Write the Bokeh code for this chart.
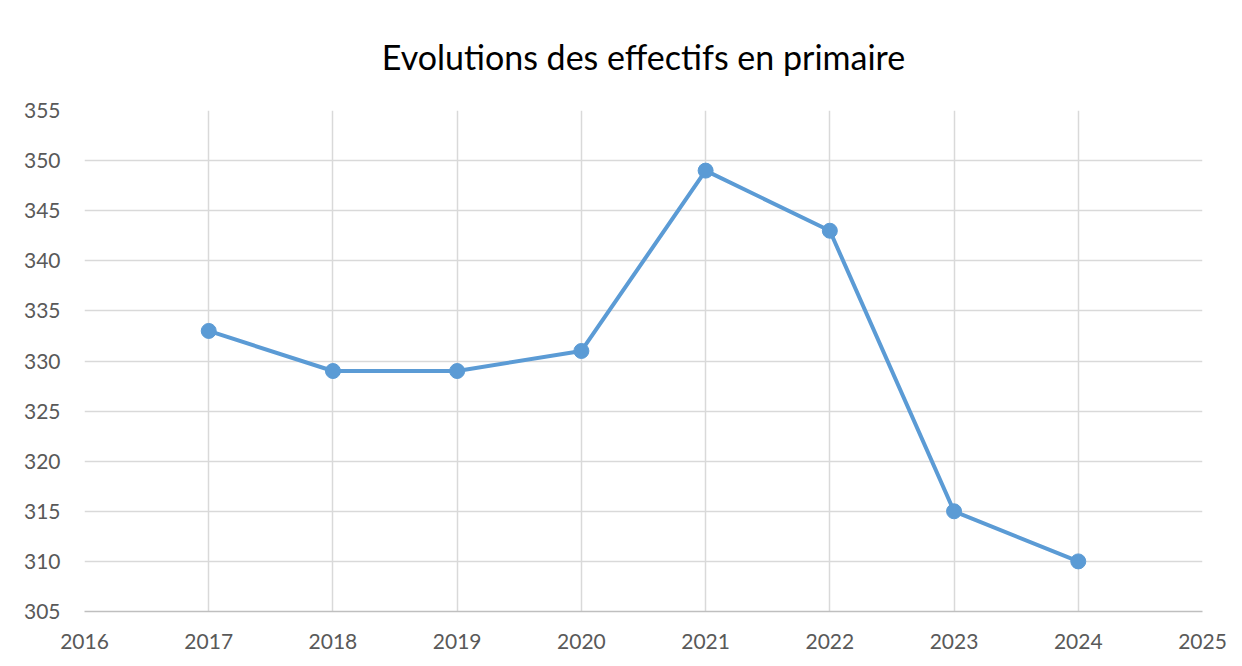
from bokeh.plotting import figure
from bokeh.models import FixedTicker, Range1d
from bokeh.embed import file_html
from bokeh.resources import INLINE

years = [2017, 2018, 2019, 2020, 2021, 2022, 2023, 2024]
effectifs = [333, 329, 329, 331, 349, 343, 315, 310]
x_ticks = list(range(2016, 2026))
y_ticks = list(range(305, 356, 5))

p = figure(width=1234, height=658, output_backend="svg", toolbar_location=None,
           x_range=Range1d(2016, 2025), y_range=Range1d(305, 355),
           title="Evolutions des effectifs en primaire")
p.min_border_left = 84
p.min_border_right = 32
p.min_border_bottom = 47
p.min_border_top = 110

p.title.align = "center"
p.title.text_font = "Lato"
p.title.text_font_size = "34px"
p.title.text_font_style = "normal"
p.title.text_color = "#000000"
p.title.standoff = 67

p.outline_line_color = None
p.background_fill_color = "white"
p.border_fill_color = "white"

for ax in (p.xaxis, p.yaxis):
    ax.major_label_text_font = "Lato"
    ax.major_label_text_font_size = "21px"
    ax.major_label_text_color = "#595959"
    ax.major_tick_line_color = None
    ax.minor_tick_line_color = None

p.xaxis.ticker = FixedTicker(ticks=x_ticks)
p.yaxis.ticker = FixedTicker(ticks=y_ticks)
p.xaxis.axis_line_color = "#bfbfbf"
p.xaxis.axis_line_width = 1.5
p.yaxis.axis_line_color = None
p.xaxis.major_label_standoff = 16
p.yaxis.major_label_standoff = 18

p.xgrid.ticker = FixedTicker(ticks=x_ticks)
p.ygrid.ticker = FixedTicker(ticks=y_ticks)
p.grid.grid_line_color = "#d9d9d9"
p.grid.grid_line_width = 1.5

p.line(years, effectifs, line_color="#5b9bd5", line_width=4)
p.scatter(years, effectifs, size=15, fill_color="#5b9bd5", line_color="#5b9bd5")

open("out.html", "w").write(file_html(p, INLINE))
